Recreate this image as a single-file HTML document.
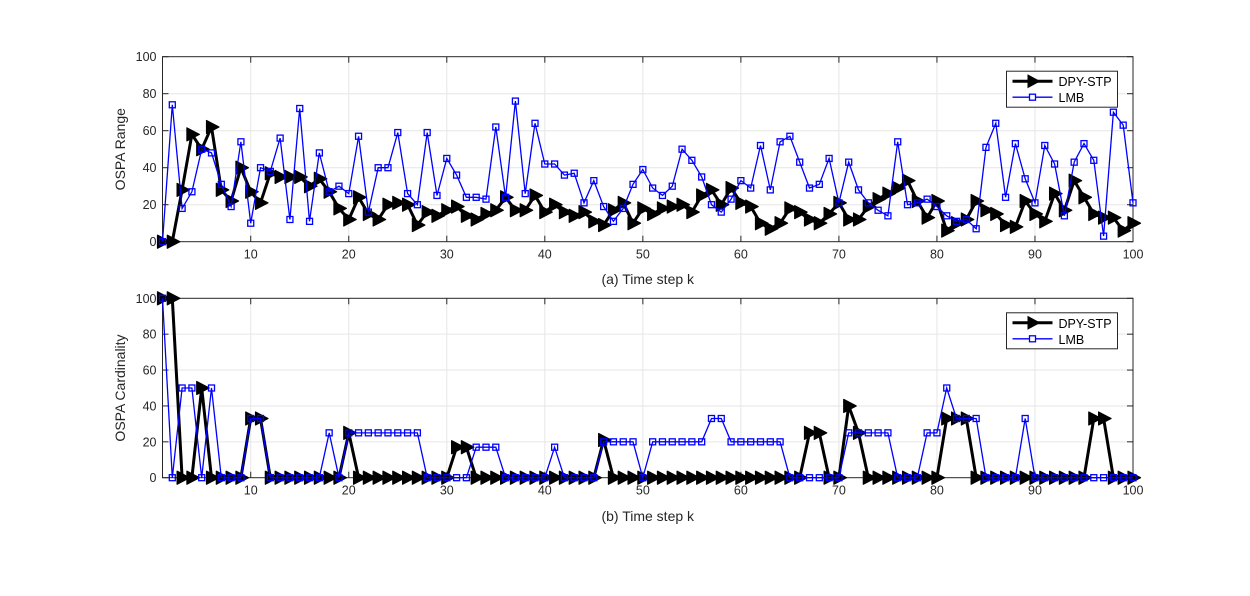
<!DOCTYPE html>
<html><head><meta charset="utf-8"><style>
body{margin:0;background:#fff;}
svg{display:block;font-family:"Liberation Sans",sans-serif;}
</style></head><body>
<svg id="c" width="1250" height="596"></svg>
<script>
const steps = Array.from({length:100},(_,i)=>i+1);
const rangeDPY = [0,0,28,58,50,62,28,22,40,27,21,37,35,35,35,30,34,27,18,12,24,15,12,20,21,20,9,16,14,17,19,14,12,15,17,24,17,17,25,16,20,16,14,16,11,9,17,21,10,18,15,18,19,20,16,25,28,20,29,21,19,10,7,10,18,16,12,10,15,21,12,12,19,23,26,29,33,22,13,22,6,10,12,22,17,15,9,8,22,15,11,26,17,33,24,15,13,13,6,10];
const rangeLMB = [0,74,18,27,50,48,31,19,54,10,40,38,56,12,72,11,48,27,30,26,57,16,40,40,59,26,20,59,25,45,36,24,24,23,62,24,76,26,64,42,42,36,37,21,33,19,11,18,31,39,29,25,30,50,44,35,20,16,23,33,29,52,28,54,57,43,29,31,45,21,43,28,21,17,14,54,20,21,23,19,14,11,12,7,51,64,24,53,34,21,52,42,14,43,53,44,3,70,63,21];
const cardDPY = [100,100,0,0,50,0,0,0,0,33,33,0,0,0,0,0,0,0,0,25,0,0,0,0,0,0,0,0,0,0,17,17,0,0,0,0,0,0,0,0,0,0,0,0,0,21,0,0,0,0,0,0,0,0,0,0,0,0,0,0,0,0,0,0,0,0,25,25,0,0,40,25,0,0,0,0,0,0,0,0,33,33,33,0,0,0,0,0,0,0,0,0,0,0,0,33,33,0,0,0];
const cardLMB = [100,0,50,50,0,50,0,0,0,33,33,0,0,0,0,0,0,25,0,25,25,25,25,25,25,25,25,0,0,0,0,0,17,17,17,0,0,0,0,0,17,0,0,0,0,20,20,20,20,0,20,20,20,20,20,20,33,33,20,20,20,20,20,20,0,0,0,0,0,0,25,25,25,25,25,0,0,0,25,25,50,33,33,33,0,0,0,0,33,0,0,0,0,0,0,0,0,0,0,0];
const xTicks = [10,20,30,40,50,60,70,80,90,100];
const yTicks = [0,20,40,60,80,100];

const NS="http://www.w3.org/2000/svg";
const svg=document.getElementById('c');
function mk(tag,attrs,parent){const e=document.createElementNS(NS,tag);for(const k in attrs)e.setAttribute(k,attrs[k]);(parent||svg).appendChild(e);return e;}
const X0=162.5,X1=1133;
function xs(v){return X0+(v-1)*(X1-X0)/99;}

function panel(top,bot,dpy,lmb,ylabel,xlabel,xlabY,name){
  const g=mk('g',{});
  
  
  const ys=v=>bot-(v/100)*(bot-top);
  mk('rect',{x:X0,y:top,width:X1-X0,height:bot-top,fill:'#fff'},g);
  for(const t of xTicks){if(t<100)mk('line',{x1:xs(t),x2:xs(t),y1:top,y2:bot,stroke:'#e6e6e6','stroke-width':1},g);}
  for(const t of yTicks){if(t>0&&t<100)mk('line',{x1:X0,x2:X1,y1:ys(t),y2:ys(t),stroke:'#e6e6e6','stroke-width':1},g);}
  mk('rect',{x:X0,y:top,width:X1-X0,height:bot-top,fill:'none',stroke:'#262626','stroke-width':1},g);
  for(const t of xTicks){
    mk('line',{x1:xs(t),x2:xs(t),y1:bot,y2:bot-6,stroke:'#262626'},g);
    mk('line',{x1:xs(t),x2:xs(t),y1:top,y2:top+6,stroke:'#262626'},g);
    const tx=mk('text',{x:xs(t),y:bot+17,'text-anchor':'middle','font-size':12.5,fill:'#262626'},g);
    tx.textContent=t;
    
    
  }
  for(const t of yTicks){
    mk('line',{x1:X0,x2:X0+6,y1:ys(t),y2:ys(t),stroke:'#262626'},g);
    mk('line',{x1:X1,x2:X1-6,y1:ys(t),y2:ys(t),stroke:'#262626'},g);
    const tx=mk('text',{x:X0-6,y:ys(t)+4.5,'text-anchor':'end','font-size':12.5,fill:'#262626'},g);
    tx.textContent=t;
    
    
  }
  const yl=mk('text',{x:0,y:0,transform:`translate(125,${(top+bot)/2}) rotate(-90)`,'text-anchor':'middle','font-size':14,fill:'#262626'},g);
  yl.textContent=ylabel;
  
  
  const xl=mk('text',{x:(X0+X1)/2,y:xlabY,'text-anchor':'middle','font-size':14,fill:'#262626'},g);
  xl.textContent=xlabel;
  
  
  const pd=steps.map((s,i)=>xs(s).toFixed(1)+','+ys(dpy[i]).toFixed(1)).join(' ');
  const l1=mk('polyline',{points:pd,fill:'none',stroke:'#000','stroke-width':3,'stroke-linejoin':'round'},g);
  
  
  steps.forEach((s,i)=>{const cx=xs(s),cy=ys(dpy[i]);
    const m=mk('polygon',{points:`${cx-5},${cy-6.5} ${cx+7.5},${cy} ${cx-5},${cy+6.5}`,fill:'#000',stroke:'#000','stroke-width':1.2,'stroke-linejoin':'round'},g);
    
    });
  const pl=steps.map((s,i)=>xs(s).toFixed(1)+','+ys(lmb[i]).toFixed(1)).join(' ');
  const l2=mk('polyline',{points:pl,fill:'none',stroke:'#0000ff','stroke-width':1.3},g);
  
  
  steps.forEach((s,i)=>{const cx=xs(s),cy=ys(lmb[i]);
    const m=mk('rect',{x:cx-3,y:cy-3,width:6,height:6,fill:'none',stroke:'#0000ff','stroke-width':1.3},g);
    
    });
  const lg=mk('g',{},g);
  
  
  const lx=1006.5,ly=top+14.5;
  mk('rect',{x:lx,y:ly,width:111,height:36,fill:'#fff',stroke:'#262626','stroke-width':1},lg);
  mk('line',{x1:lx+6,x2:lx+46,y1:ly+10,y2:ly+10,stroke:'#000','stroke-width':3},lg);
  mk('polygon',{points:`${lx+21},${ly+3} ${lx+34},${ly+10} ${lx+21},${ly+17}`,fill:'#000'},lg);
  const t1=mk('text',{x:lx+52,y:ly+15,'font-size':12.5,fill:'#000'},lg);t1.textContent='DPY-STP';
  
  
  mk('line',{x1:lx+6,x2:lx+46,y1:ly+26,y2:ly+26,stroke:'#0000ff','stroke-width':1.3},lg);
  mk('rect',{x:lx+23,y:ly+23,width:6,height:6,fill:'#fff',stroke:'#0000ff','stroke-width':1.3},lg);
  const t2=mk('text',{x:lx+52,y:ly+31,'font-size':12.5,fill:'#000'},lg);t2.textContent='LMB';
  
  
}
panel(56.7,241.7,rangeDPY,rangeLMB,'OSPA Range','(a) Time step k',284,'range-panel');
panel(298.3,477.7,cardDPY,cardLMB,'OSPA Cardinality','(b) Time step k',521,'cardinality-panel');
</script>
</body></html>
